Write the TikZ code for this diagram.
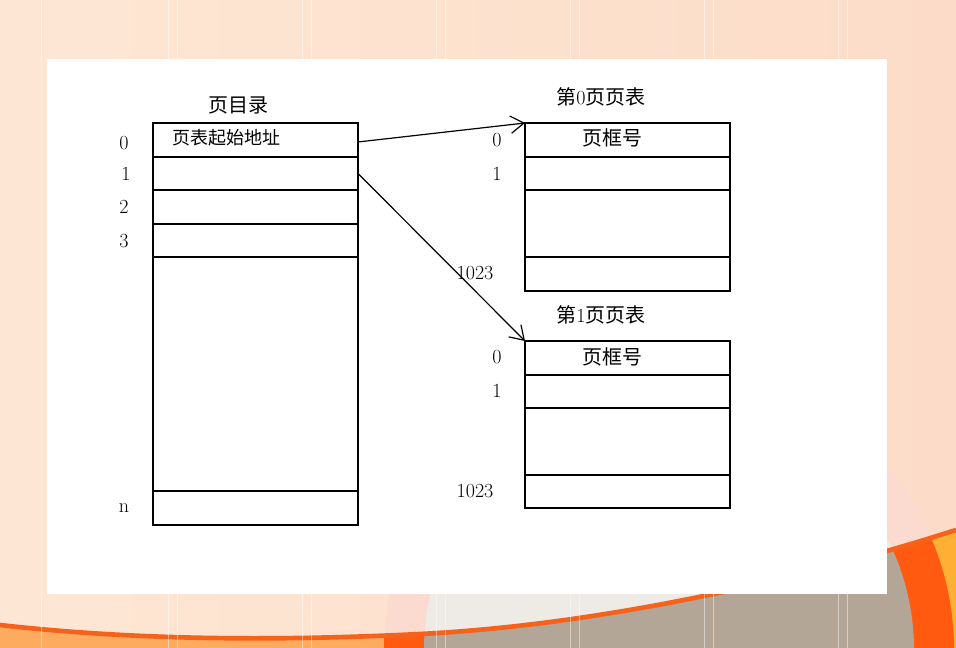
\documentclass[tikz,border=0pt]{standalone}
\usepackage{fontspec}
\newfontfamily\cjk{Noto Sans CJK SC}
\usetikzlibrary{arrows.meta,positioning,calc}
\definecolor{peachL}{HTML}{FDE7D4}
\definecolor{peachR}{HTML}{FCDCC8}
\definecolor{ringpink}{HTML}{FBDAD0}
\definecolor{ringgray}{HTML}{EEEAE6}
\definecolor{lowor}{HTML}{FDAB5E}
\definecolor{yellowor}{HTML}{FFB034}
\definecolor{darkor}{HTML}{FF5A10}
\definecolor{taupe}{HTML}{B3A696}
\definecolor{lineor}{HTML}{F5621C}

\begin{document}
\begin{tikzpicture}[x=0.75pt,y=-0.75pt,
    cell/.style={draw, line width=0.9pt, anchor=north west, minimum width=153.75pt,
                 inner sep=0pt, outer sep=0pt},
    idx/.style={font=\fontsize{15}{15}\selectfont, inner sep=0pt},
    ttl/.style={font=\cjk\fontsize{15}{15}\selectfont, inner sep=0pt},
    ptr/.style={line width=0.9pt, -{Straight Barb[length=10pt,width=13pt]}}]
                \useasboundingbox (0,0) rectangle (956,648);
                % background of the slide
                \begin{scope}
                    \clip (0,0) rectangle (956,648);
                    \shade[left color=peachL, right color=peachR] (0,0) rectangle (956,648);
                    \fill[ringpink] (669,650) circle (285);
                    \fill[ringgray] (669,650) circle (245);
                    \begin{scope}
                        \clip (0,625) .. controls (150,642) and (300,640) .. (420,634)
                              .. controls (600,625) and (800,580) .. (956,530)
                              -- (956,648) -- (0,648) -- cycle;
                        \fill[lowor] (0,500) rectangle (669,648);
                        \fill[yellowor] (669,500) rectangle (956,648);
                        \fill[darkor] (669,650) circle (285);
                        \fill[taupe] (669,650) circle (245);
                    \end{scope}
                    \draw[lineor, line width=3.5pt] (0,625) .. controls (150,642) and (300,640) .. (420,634)
                          .. controls (600,625) and (800,580) .. (956,530);
                    \foreach \x in {41,168,177,302,311,436,445,570,579,704,713,838,847}
                        \draw[white, opacity=0.45, line width=0.6pt] (\x,0) -- (\x,648);
                \end{scope}
                \fill[white] (47,59) rectangle (887,594);

                % page directory
                \node[cell, minimum height=25.5pt]  (d0) at (153,123) {};
                \node[cell, minimum height=24.75pt] (d1) at (153,157) {};
                \node[cell, minimum height=25.5pt]  (d2) at (153,190) {};
                \node[cell, minimum height=24.75pt] (d3) at (153,224) {};
                \node[cell, minimum height=175.5pt] (dm) at (153,257) {};
                \node[cell, minimum height=25.5pt]  (dn) at (153,491) {};
                \node[ttl] (dtitle) at (238,105) {页目录};
                \node[font=\cjk\fontsize{13.5}{13.5}\selectfont, inner sep=0pt] (dtext) at (226,138) {页表起始地址};
                \node[idx] (di0) at (124,143) {0};
                \node[idx] (di1) at (126,174) {1};
                \node[idx] (di2) at (124,207) {2};
                \node[idx] (di3) at (124,241) {3};
                \node[idx] (din) at (124,508) {n};

                % page table 0
                \node[cell, minimum height=25.5pt]  (a0) at (525,123) {};
                \node[cell, minimum height=24.75pt] (a1) at (525,157) {};
                \node[cell, minimum height=50.25pt] (am) at (525,190) {};
                \node[cell, minimum height=25.5pt]  (ae) at (525,257) {};
                \node[ttl] (atitle) at (601,97) {第\rmfamily 0\cjk 页页表};
                \node[ttl] (atext) at (612,138) {页框号};
                \node[idx] (ai0) at (497,140) {0};
                \node[idx] (ai1) at (497,174) {1};
                \node[idx] (aie) at (475,273) {1023};

                % page table 1
                \node[cell, minimum height=25.5pt]  (b0) at (525,341) {};
                \node[cell, minimum height=24.75pt] (b1) at (525,375) {};
                \node[cell, minimum height=50.25pt] (bm) at (525,408) {};
                \node[cell, minimum height=24.75pt] (be) at (525,475) {};
                \node[ttl] (btitle) at (601,315) {第\rmfamily 1\cjk 页页表};
                \node[ttl] (btext) at (612,357) {页框号};
                \node[idx] (bi0) at (497,357) {0};
                \node[idx] (bi1) at (497,391) {1};
                \node[idx] (bie) at (475,491) {1023};

                % the pointers
                \draw[ptr] ($(d0.east)+(0,2)$) -- (a0.north west);
                \draw[ptr] (d1.east) -- (b0.north west);
\end{tikzpicture}
\end{document}
